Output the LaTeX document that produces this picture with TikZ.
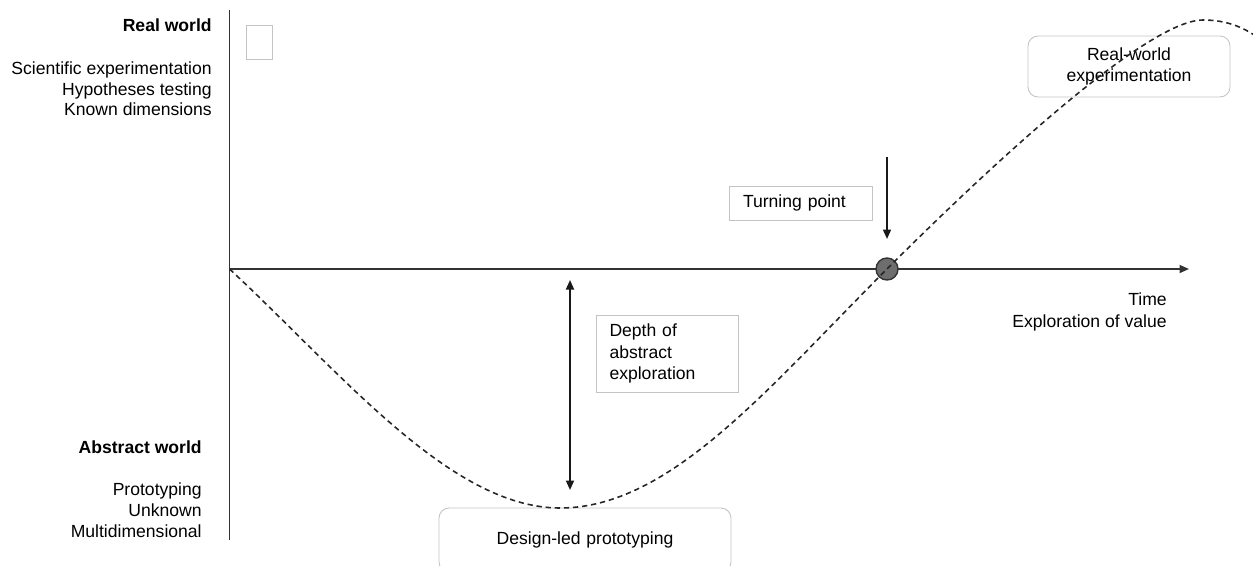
\documentclass[tikz,border=0pt]{standalone}
\usepackage{fontspec}
\setmainfont{Liberation Sans}
\usetikzlibrary{arrows.meta}
\definecolor{boxgray}{HTML}{C4C4C4}
\definecolor{axisgray}{HTML}{333333}
\definecolor{dotgray}{HTML}{6E6E6E}
\tikzset{
  plainbox/.style={draw=boxgray, line width=0.5pt, fill=white, inner sep=0pt},
  roundbox/.style={plainbox, rounded corners=0.2cm},
  lbl/.style={inner sep=0pt, anchor=base east},
  tipend/.style={-{Triangle[length=1.9mm,width=1.6mm]}},
  bothends/.style={{Triangle[length=1.9mm,width=1.6mm]}-{Triangle[length=1.9mm,width=1.6mm]}},
  pathcurve/.style={dashed, dash pattern=on 3pt off 2.2pt, line width=0.9pt, black!85}
}
\begin{document}
\begin{tikzpicture}[x=0.02cm, y=-0.02cm]
  \useasboundingbox (0,0) rectangle (1253,565);
  % axes
  \coordinate (origin) at (229.5,269);
  \coordinate (ytop) at (229.5,10);
  \coordinate (ybot) at (229.5,540);
  \coordinate (xend) at (1189,269);
  \draw[axisgray, line width=1pt] (ytop) -- (ybot);
  \draw[axisgray, line width=1pt, tipend] (origin) -- (xend);
  % labels on the left
  \node[lbl, font=\bfseries] (realtitle) at (212,31.5) {Real world};
  \foreach \txt/\y [count=\i] in {Scientific experimentation/74, Hypotheses testing/95, Known dimensions/115}
    \node[lbl] (real\i) at (212,\y) {\txt};
  \node[lbl, font=\bfseries] (abstitle) at (202,453) {Abstract world};
  \foreach \txt/\y [count=\i] in {Prototyping/495, Unknown/516.5, Multidimensional/537}
    \node[lbl] (abs\i) at (202,\y) {\txt};
  \node[lbl] (time) at (1167,305) {Time};
  \node[lbl] (value) at (1167,327) {Exploration of value};
  % boxes
  \node[plainbox, minimum width=0.52cm, minimum height=0.68cm] (blank) at (259,42) {};
  \node[roundbox, minimum width=4.04cm, minimum height=1.22cm, text width=4cm, align=center] (realexp) at (1129,66.5) {Real-world\\experimentation};
  \node[plainbox, minimum width=2.86cm, minimum height=0.68cm, text width=2.3cm, align=left] (turnbox) at (800.5,203) {Turning point};
  \node[plainbox, minimum width=2.84cm, minimum height=1.54cm, text width=2.3cm, align=left] (depth) at (667,353.5) {Depth of\\abstract\\exploration};
  \node[roundbox, minimum width=5.84cm, minimum height=1.28cm, text width=5.5cm, align=center] (design) at (585,540) {Design-led prototyping};
  % turning point
  \node[circle, draw=axisgray, fill=dotgray, line width=0.8pt, minimum size=0.44cm, inner sep=0pt] (turn) at (887,269) {};
  \coordinate (arrtop) at (887,157);
  \coordinate (arrtip) at (887,239);
  \draw[black!90, line width=1pt, tipend] (arrtop) -- (arrtip);
  % depth arrow
  \coordinate (dtop) at (570,280);
  \coordinate (dbot) at (570,490);
  \draw[black!90, line width=1pt, bothends] (dtop) -- (dbot);
  % dashed path
  \coordinate (low) at (560,508);
  \coordinate (high) at (1203,20);
  \draw[pathcurve] (origin) .. controls (339.5,371) and (450,508) .. (low)
    .. controls (670,508) and (767,389) .. (turn.center)
    .. controls (967,189) and (1143,20) .. (high)
    .. controls (1228,20) and (1246,28) .. (1264,42);
\end{tikzpicture}
\end{document}
